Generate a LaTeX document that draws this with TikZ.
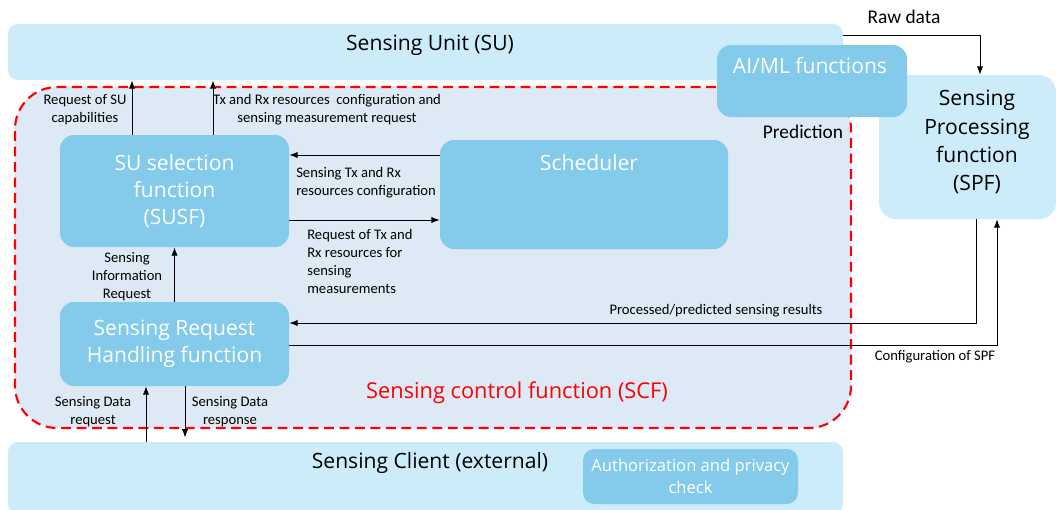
\documentclass[tikz,border=0pt]{standalone}
\usepackage{fontspec}
\setmainfont{Carlito}
\newfontfamily\opensans{Open Sans}
\usetikzlibrary{arrows.meta,calc}
\definecolor{sulight}{RGB}{204,236,250}
\definecolor{funcblue}{RGB}{131,202,235}
\definecolor{scffill}{RGB}{221,233,245}
\definecolor{scfred}{RGB}{255,0,0}
\tikzset{
  box size/.style 2 args={minimum width=#1*0.025cm, minimum height=#2*0.025cm},
  outerbox/.style={fill=sulight, rounded corners=7pt, inner sep=0pt},
  funcbox/.style={fill=funcblue, rounded corners=10pt, inner sep=0pt, text=white, align=center, font=\opensans\fontsize{15}{19}\selectfont},
  boxtext/.style={font=\opensans\fontsize{15}{19}\selectfont, inner sep=0pt},
  lbl/.style={font=\fontsize{10.4}{12.8}\selectfont, align=center, inner sep=0pt},
  arr/.style={-{Latex[length=6pt,width=4.5pt]}, line width=0.7pt},
}
\begin{document}
\begin{tikzpicture}[x=0.025cm, y=-0.025cm]
    \useasboundingbox (0,0) rectangle (1056,509);
    % Sensing Unit
    \node[outerbox, box size={835}{56}] (su) at (425.5,52) {};
    \node[boxtext] (sutext) at (430,45) {Sensing Unit (SU)};
    % Sensing control function region
    \node[draw=scfred, fill=scffill, line width=1.5pt, dash pattern=on 7pt off 4pt,
          rounded corners=30pt, box size={836}{341}] (scf) at (433,257.5) {};
    \node[boxtext, text=scfred, font=\opensans\fontsize{15.5}{19}\selectfont] (scftext) at (517,393) {Sensing control function (SCF)};
    % Sensing Processing function
    \node[outerbox, rounded corners=12pt, box size={177}{144}] (spf) at (967.5,147) {};
    \node[boxtext, align=center, font=\opensans\fontsize{15}{20}\selectfont] (spftext) at (977,142) {Sensing\\Processing\\function\\(SPF)};
    % AI/ML
    \node[funcbox, box size={190}{72}] (aiml) at (812,81) {};
    \node[boxtext, text=white] (aimltext) at (810,66) {AI/ML functions};
    \node[font=\fontsize{13.8}{16}\selectfont, inner sep=0pt] (predlbl) at (803,132) {Prediction};
    % Functions inside SCF
    \node[funcbox, box size={229}{112}] (susf) at (174.5,191) {SU selection\\function\\(SUSF)};
    \node[funcbox, box size={288}{109}] (sched) at (584,194.5) {};
    \node[boxtext, text=white] (schedtext) at (589,163) {Scheduler};
    \node[funcbox, box size={229}{84}] (srhf) at (174.5,344) {Sensing Request\\Handling function};
    % Sensing Client
    \node[outerbox, box size={835}{72}] (client) at (425.5,478) {};
    \node[boxtext] (clienttext) at (430,463) {Sensing Client (external)};
    \node[funcbox, rounded corners=8pt, box size={215}{55}, font=\opensans\fontsize{11.8}{15.6}\selectfont] (auth) at (690.5,476.5) {Authorization and privacy\\check};

    % Raw data
    \draw[arr] ($(su.east)+(0,-17)$) -| ($(spf.north)+(12.5,0)$);
    \node[font=\fontsize{13.8}{16}\selectfont, inner sep=0pt] (rawlbl) at (904,17) {Raw data};
    % SUSF to SU
    \coordinate (capup) at ($(susf.north)+(-42.5,0)$);
    \draw[arr] (capup) -- (capup |- su.south);
    \coordinate (txrxup) at ($(susf.north)+(38.5,0)$);
    \draw[arr] (txrxup) -- (txrxup |- su.south);
    \node[lbl] (capslbl) at (85,110) {Request of SU\\capabilities};
    \node[lbl] (txrxlbl) at (327,110) {Tx and Rx resources\ \ configuration and\\sensing measurement request};
    % SUSF and Scheduler
    \coordinate (cfgback) at ($(sched.west)+(0,-39.5)$);
    \draw[arr] (cfgback) -- (cfgback -| susf.east);
    \coordinate (txreq) at ($(susf.east)+(0,29)$);
    \draw[arr] (txreq) -- (txreq -| sched.west);
    \node[lbl, align=left, anchor=west] (cfglbl) at (296,183) {Sensing Tx and Rx\\resources configuration};
    \node[lbl, align=left, anchor=west] (reqlbl) at (307,261) {Request of Tx and\\Rx resources for\\sensing\\measurements};
    % SRHF to SUSF
    \draw[arr] (srhf.north) -- (susf.south);
    \node[lbl] (infolbl) at (127,277) {Sensing\\Information\\Request};
    % SPF and SRHF
    \coordinate (resout) at ($(spf.south)+(8.5,0)$);
    \draw[arr] (resout) |- ($(srhf.east)+(0,-21)$);
    \coordinate (cfgin) at ($(spf.south)+(29.5,0)$);
    \draw[arr] ($(srhf.east)+(0,1)$) -| (cfgin);
    \node[lbl] (reslbl) at (716,311) {Processed/predicted sensing results};
    \node[lbl] (spfcfglbl) at (935,357) {Configuration of SPF};
    % Client and SRHF
    \coordinate (datareq) at ($(srhf.south)+(-28.5,0)$);
    \draw[arr] (datareq |- client.north) -- (datareq);
    \coordinate (dataresp) at ($(srhf.south)+(10.5,0)$);
    \draw[arr, shorten >=3pt] (dataresp) -- (dataresp |- client.north);
    \node[lbl] (datareqlbl) at (93,412) {Sensing Data\\request};
    \node[lbl] (datarsplbl) at (230,412) {Sensing Data\\response};
\end{tikzpicture}
\end{document}
